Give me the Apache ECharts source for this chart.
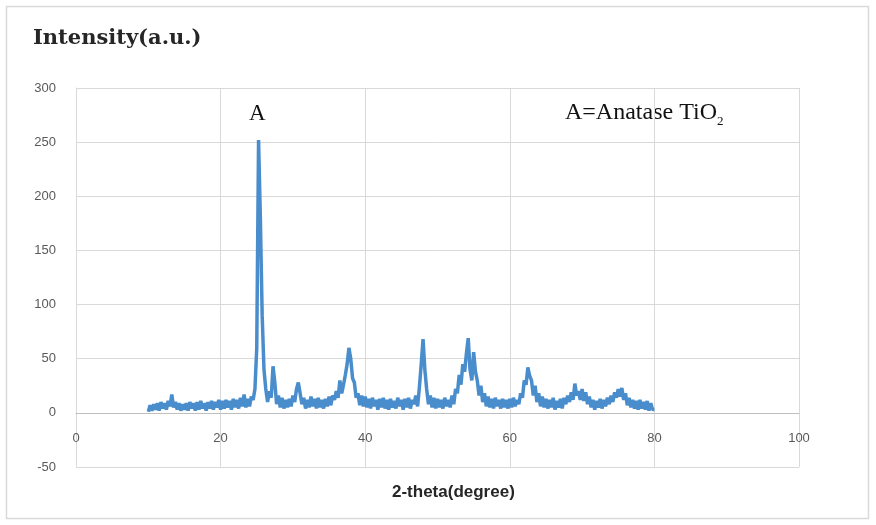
<!DOCTYPE html>
<html>
<head>
<meta charset="utf-8">
<script src="https://cdn.jsdelivr.net/npm/echarts@6/dist/echarts.min.js"></script>
<style>
  html, body { margin: 0; padding: 0; background: #fff; }
  #chart { width: 876px; height: 525px; }
</style>
</head>
<body>
<div id="chart"></div>
<script>
  // XRD 图谱 2θ 从 10 到 80，步长 0.25
  const angleStart = 10
  const angleStep = 0.25
  const intensity = [
    1, 7, 2, 8, 3, 9, 2, 10, 4, 9, 3, 11, 6, 17, 5, 10, 3, 9, 2, 8,
    3, 9, 2, 10, 4, 9, 2, 10, 3, 11, 4, 9, 2, 10, 4, 11, 3, 10, 5, 12,
    3, 11, 4, 12, 5, 11, 3, 13, 5, 12, 4, 14, 6, 17, 5, 13, 6, 15, 12, 22,
    60, 252, 180, 90, 40, 22, 10, 20, 14, 43, 28, 8, 16, 5, 14, 4, 12, 5, 13, 6,
    16, 10, 22, 28, 18, 8, 14, 4, 12, 5, 15, 6, 13, 4, 14, 5, 12, 4, 13, 6,
    15, 7, 16, 12, 20, 14, 30, 18, 26, 35, 45, 60, 50, 32, 28, 14, 18, 7, 16, 6,
    15, 5, 13, 4, 14, 6, 12, 3, 13, 5, 14, 4, 12, 3, 13, 5, 11, 4, 14, 6,
    12, 3, 13, 5, 14, 4, 12, 8, 16, 6, 24, 45, 68, 40, 22, 8, 16, 5, 14, 4,
    13, 5, 12, 4, 14, 6, 12, 5, 16, 8, 22, 18, 35, 26, 45, 38, 55, 69, 40, 30,
    56, 38, 30, 16, 25, 10, 18, 6, 15, 5, 13, 4, 14, 6, 12, 4, 13, 5, 12, 4,
    13, 5, 14, 6, 12, 8, 18, 14, 30, 26, 42, 34, 30, 16, 25, 10, 18, 6, 15, 5,
    13, 4, 12, 5, 14, 3, 11, 5, 13, 4, 14, 8, 16, 10, 19, 12, 27, 16, 20, 12,
    22, 11, 19, 8, 15, 5, 12, 3, 11, 5, 13, 4, 12, 6, 14, 8, 16, 10, 19, 14,
    22, 15, 23, 12, 18, 7, 14, 5, 12, 4, 11, 3, 12, 4, 10, 3, 11, 2, 9, 3,
    3
  ]
  const xTicks = [0, 20, 40, 60, 80, 100]
  const yTicks = [-50, 0, 50, 100, 150, 200, 250, 300]

  const seriesData = intensity.map((v, i) => [angleStart + i * angleStep, v])

  const chart = echarts.init(document.getElementById('chart'))
  const labelFont = '"Liberation Sans Narrow", "Liberation Sans", sans-serif'

  chart.setOption({
    backgroundColor: '#fff',
    animation: false,
    grid: {
      left: 76,
      right: 77,
      top: 88,
      bottom: 58
    },
    xAxis: {
      type: 'value',
      min: xTicks[0],
      max: xTicks[xTicks.length - 1],
      interval: 20,
      axisLine: { onZero: true, lineStyle: { color: '#bfbfbf', width: 1 } },
      axisTick: { show: false },
      // 标签跟随 0 轴，放在 0 线下方
      axisLabel: { color: '#595959', fontSize: 13, fontFamily: labelFont, margin: -35 },
      splitLine: { show: true, lineStyle: { color: '#d9d9d9', width: 1 } }
    },
    yAxis: {
      type: 'value',
      min: yTicks[0],
      max: yTicks[yTicks.length - 1],
      interval: 50,
      axisLine: { show: true, onZero: false, lineStyle: { color: '#d9d9d9' } },
      axisTick: { show: false },
      axisLabel: { color: '#595959', fontSize: 13, fontFamily: labelFont, margin: 20 },
      splitLine: { show: true, lineStyle: { color: '#d9d9d9', width: 1 } }
    },
    series: [{
      type: 'line',
      data: seriesData,
      showSymbol: false,
      smooth: false,
      lineStyle: { color: '#4a8dcc', width: 3.5 },
      itemStyle: { color: '#4a8dcc' },
      z: 3
    }],
    graphic: [
      {
        type: 'rect',
        left: 4, top: 4,
        shape: { width: 862, height: 512 },
        style: { fill: 'none', stroke: '#d9d9d9', lineWidth: 1.5 },
        silent: true
      },
      {
        type: 'text',
        left: 33, top: 28,
        style: {
          text: 'Intensity(a.u.)',
          font: 'bold 21px "DejaVu Serif", serif',
          fill: '#262626'
        }
      },
      {
        type: 'text',
        left: 392, top: 484,
        style: {
          text: '2-theta(degree)',
          font: 'bold 17px "Liberation Sans", sans-serif',
          fill: '#262626'
        }
      },
      {
        type: 'text',
        left: 249, top: 102,
        style: {
          text: 'A',
          font: '23px "Liberation Serif", serif',
          fill: '#111'
        }
      },
      {
        type: 'text',
        left: 565, top: 101,
        style: {
          text: '{m|A=Anatase TiO}{s|2}',
          rich: {
            m: { font: '24px "Liberation Serif", serif', fill: '#111' },
            s: { font: '13px "Liberation Serif", serif', fill: '#111', padding: [17, 0, 0, 0] }
          }
        }
      }
    ]
  })
</script>
</body>
</html>
